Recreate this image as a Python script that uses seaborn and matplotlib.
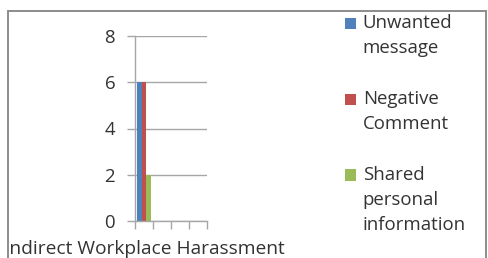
import matplotlib
matplotlib.use('Agg')
import matplotlib.pyplot as plt
import matplotlib.patches as mpatches
from matplotlib.legend_handler import HandlerPatch
import pandas as pd
import seaborn as sns

# data
categories = ['Indirect Workplace Harassment']
series = ['Unwanted\nmessage', 'Negative\nComment', 'Shared\npersonal\ninformation']
values = [6, 6, 2]
colors = ['#4F81BD', '#C0504D', '#9BBB59']
yticks = [0, 2, 4, 6, 8]

df = pd.DataFrame({
    'category': categories * len(series),
    'series': series,
    'value': values,
})

sns.set_style('white')
plt.rcParams['font.family'] = ['Open Sans', 'DejaVu Sans']
FS = 13.4
TXT = '#333333'
GRID = '#a6a6a6'

fig = plt.figure(figsize=(4.88, 2.58), dpi=100)
ax = fig.add_axes([135 / 488, 1 - 221 / 258, 72 / 488, 185 / 258])

sns.barplot(data=df, x='category', y='value', hue='series', palette=colors,
            width=0.75, saturation=1, linewidth=0, ax=ax, legend=False)

ax.set_xlim(-0.5, 3.5)
ax.set_xticks([0])
ax.set_xticklabels(categories)
ax.set_xticks([-0.5, 0.5, 1.5, 2.5, 3.5], minor=True)
ax.tick_params(axis='x', which='major', length=0, pad=14, labelsize=13.8, labelcolor=TXT)
ax.tick_params(axis='x', which='minor', length=5.5, width=1, color=GRID, direction='out', bottom=True)
ax.set_ylim(0, 8)
ax.set_yticks(yticks)
ax.tick_params(axis='y', length=5.8, width=1, color=GRID, direction='out', left=True,
               pad=8.5, labelsize=FS, labelcolor=TXT)
ax.grid(axis='y', color=GRID, linewidth=1)
ax.set_axisbelow(True)
ax.set_xlabel('')
ax.set_ylabel('')
for s in ['top', 'right']:
    ax.spines[s].set_visible(False)
for s in ['left', 'bottom']:
    ax.spines[s].set_color(GRID)
    ax.spines[s].set_linewidth(1)

# outer chart frame
frame = mpatches.Rectangle((7.5 / 488, -0.1), 478 / 488, 1.1 - 10.5 / 258,
                           transform=fig.transFigure, fill=False,
                           edgecolor='#8c8c8c', linewidth=1.4)
fig.add_artist(frame)
for lbl in ax.get_xticklabels():
    lbl.set_clip_on(True)
    lbl.set_clip_path(frame)


class TopPatch(HandlerPatch):
    # put the colour square next to the first line of the label
    def create_artists(self, legend, orig_handle, xdescent, ydescent,
                       width, height, fontsize, trans):
        n = orig_handle.get_label().count('\n')
        shift = n * 0.5 * 1.36 * fontsize
        p = mpatches.Rectangle((-xdescent, -ydescent + shift), width, height,
                               facecolor=orig_handle.get_facecolor(), lw=0,
                               transform=trans)
        return [p]


handles = [mpatches.Patch(facecolor=c, label=l) for c, l in zip(colors, series)]
leg = fig.legend(handles=handles, labels=series, loc='upper left',
                 bbox_to_anchor=(345 / 488, 1 - 14 / 258), frameon=False,
                 handler_map={mpatches.Patch: TopPatch()},
                 handlelength=0.6, handleheight=0.55, handletextpad=0.35,
                 labelspacing=1.75, borderpad=0, borderaxespad=0,
                 prop={'size': FS})
for t in leg.get_texts():
    t.set_color(TXT)
    t.set_linespacing(1.52)

fig.savefig('out.png', dpi=100)
